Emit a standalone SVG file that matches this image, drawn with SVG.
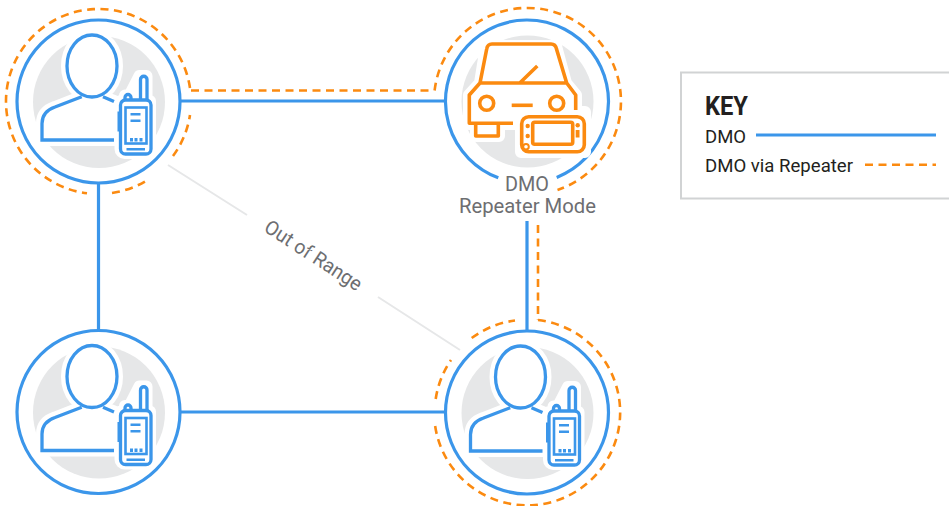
<svg xmlns="http://www.w3.org/2000/svg" xmlns:xlink="http://www.w3.org/1999/xlink" width="949" height="506" viewBox="0 0 949 506">
<style>
text{font-family:"Roboto","Liberation Sans",sans-serif}
.ring{fill:#fff;stroke:#3b96ea;stroke-width:3.200}
.grey{fill:#e6e7e8}
.blue{fill:none;stroke:#3b96ea;stroke-width:3.200}
.dash{fill:none;stroke:#fb8a10;stroke-width:2.600;stroke-dasharray:8 5.500}
.oor{fill:none;stroke:#e6e7e8;stroke-width:2}
.halo{fill:#fff;stroke:#fff;stroke-width:12;stroke-linejoin:round}
.pl{fill:#fff;stroke:#3b96ea;stroke-width:3.300}
.bf{fill:#3b96ea}
.car{fill:#fff;stroke:#fb8a10;stroke-width:3.600;stroke-linejoin:round}
.of{fill:#fb8a10}
.lab{fill:#6d6e71;font-size:21px}
.key{fill:#231f20;font-size:18px}
</style>
<defs>
<g id="person">
<circle class="grey" cx="0.500" cy="0.500" r="66"/>
<path class="halo" d="M-16.800-4.800-43.500 5.500Q-56.500 10-56.500 22V38.500H16V-.5L4.500-4.800Z"/>
<ellipse class="halo" cx="-6.500" cy="-35.500" rx="25" ry="31"/>
<path class="halo" d="M41-25.500h7v25h3.500v48a4 4 0 0 1-4 4H26a4 4 0 0 1-4-4v-48h4.500v-5.500h4.500Z"/>
<path class="pl" d="M-16.800-4.800-43.500 5.500Q-56.500 10-56.500 22V38.500H15.500M4.500-4.800 15.500 0" style="fill:none"/>
<ellipse class="pl" cx="-6.500" cy="-35.500" rx="25" ry="31"/>
<path class="pl" d="M26.500-1.500V-4a3 3 0 0 1 6 0v2.500M42-1.500V-22a3 3 0 0 1 6.500 0V-1.500" style="fill:none"/>
<rect class="pl" x="22" y="-1.500" width="30.500" height="54" rx="5"/>
<rect class="pl" x="27" y="6" width="21" height="36" style="stroke-width:2.600"/>
<rect class="bf" x="19" y="10" width="2" height="20"/>
<rect class="bf" x="32" y="11.500" width="10" height="2.500"/>
<rect class="bf" x="32" y="18" width="10" height="2.500"/>
<rect class="bf" x="31.500" y="36.500" width="3" height="3.500"/>
<rect class="bf" x="36" y="36.500" width="3" height="3.500"/>
<rect class="bf" x="41" y="36.500" width="3" height="3.500"/>
<rect class="bf" x="28" y="46.500" width="18.500" height="2.500"/>
</g>
</defs>
<g id="connectors">
<path class="blue" d="M180 101H445M98.500 183V330M180 412H445M527 221V331"/>
<path class="dash" d="M191 90.500H434"/>
<path class="dash" d="M538 225V320"/>
<path class="oor" d="M168 165 247 215M378 297 460 350"/>
</g>
<g id="node-radio-1">
<path class="dash" d="M190 88A92.500 92.500 0 1 0 87 193.300M112 193A92.500 92.500 0 0 0 147 180.300M173 156A92.500 92.500 0 0 0 190 115"/>
<circle class="ring" cx="98.500" cy="101.500" r="81.500"/>
<use xlink:href="#person" href="#person" x="98.500" y="101.500"/>
</g>
<g id="node-repeater">
<path class="dash" d="M434.600 90.500A93.500 93.500 0 1 1 557.500 190"/>
<path class="blue" style="fill:#fff" d="M498.300 177.800A81.500 81.500 0 1 1 556.700 177.400"/>
<circle class="grey" cx="527.500" cy="101.500" r="66"/>
<path class="halo" d="M486 46H556L566 83 576 95V112H585V152H521V124H499V136H476V124H469V95L480 83Z"/>
<path class="car" d="M513 123.300H469.300V95L480 83 486.700 49Q487.500 44 492 44H551Q555.500 44 556.500 49L566.700 83 575.700 95V110M480 83H566.700M520 82.700 537.300 66" style="fill:#fff"/>
<circle class="car" cx="486.700" cy="103.300" r="7"/>
<circle class="car" cx="556.700" cy="103.300" r="7"/>
<path class="car" d="M511.700 105.300H532.700"/>
<path class="car" d="M475.700 125V136H498.300V125"/>
<rect class="car" x="521.700" y="116.700" width="62.600" height="35" rx="7"/>
<rect class="car" x="532.700" y="122.300" width="40" height="22" rx="2"/>
<circle class="of" cx="527.700" cy="126" r="2.200"/>
<circle class="of" cx="527.700" cy="136" r="2.200"/>
<circle class="car" style="stroke-width:2" cx="526" cy="146.700" r="2.800"/>
<circle class="of" cx="577.700" cy="125.300" r="2.200"/>
<rect class="of" x="575.700" y="130" width="3.800" height="7.500"/>
<text class="lab" x="527" y="191" text-anchor="middle" textLength="44" lengthAdjust="spacingAndGlyphs">DMO</text>
<text class="lab" x="527.500" y="213" text-anchor="middle" textLength="137" lengthAdjust="spacingAndGlyphs">Repeater Mode</text>
</g>
<g id="node-radio-3">
<circle class="ring" cx="98.500" cy="412" r="81.500"/>
<use xlink:href="#person" href="#person" x="98.500" y="412"/>
</g>
<g id="node-radio-4">
<path class="dash" d="M538 320A93 93 0 1 1 435 425M435.700 399A93 93 0 0 1 451 360M471.700 338A93 93 0 0 1 515 320.500"/>
<circle class="ring" cx="527" cy="412.500" r="81.500"/>
<use xlink:href="#person" href="#person" x="527" y="412.500"/>
</g>
<text class="lab" transform="translate(313 256) rotate(33)" text-anchor="middle" y="6" style="font-size:20px" textLength="112" lengthAdjust="spacingAndGlyphs">Out of Range</text>
<g id="key">
<rect x="681" y="72.500" width="280" height="126" fill="#fff" stroke="#d1d3d4" stroke-width="2"/>
<text x="705" y="115" textLength="43" lengthAdjust="spacingAndGlyphs" style="font-size:25px;font-weight:700;fill:#231f20">KEY</text>
<text class="key" x="705" y="143" textLength="41" lengthAdjust="spacingAndGlyphs">DMO</text>
<path class="blue" d="M756 135H936"/>
<text class="key" x="705" y="171.500" textLength="148" lengthAdjust="spacingAndGlyphs">DMO via Repeater</text>
<path class="dash" d="M865 164.700H936"/>
</g>
</svg>
